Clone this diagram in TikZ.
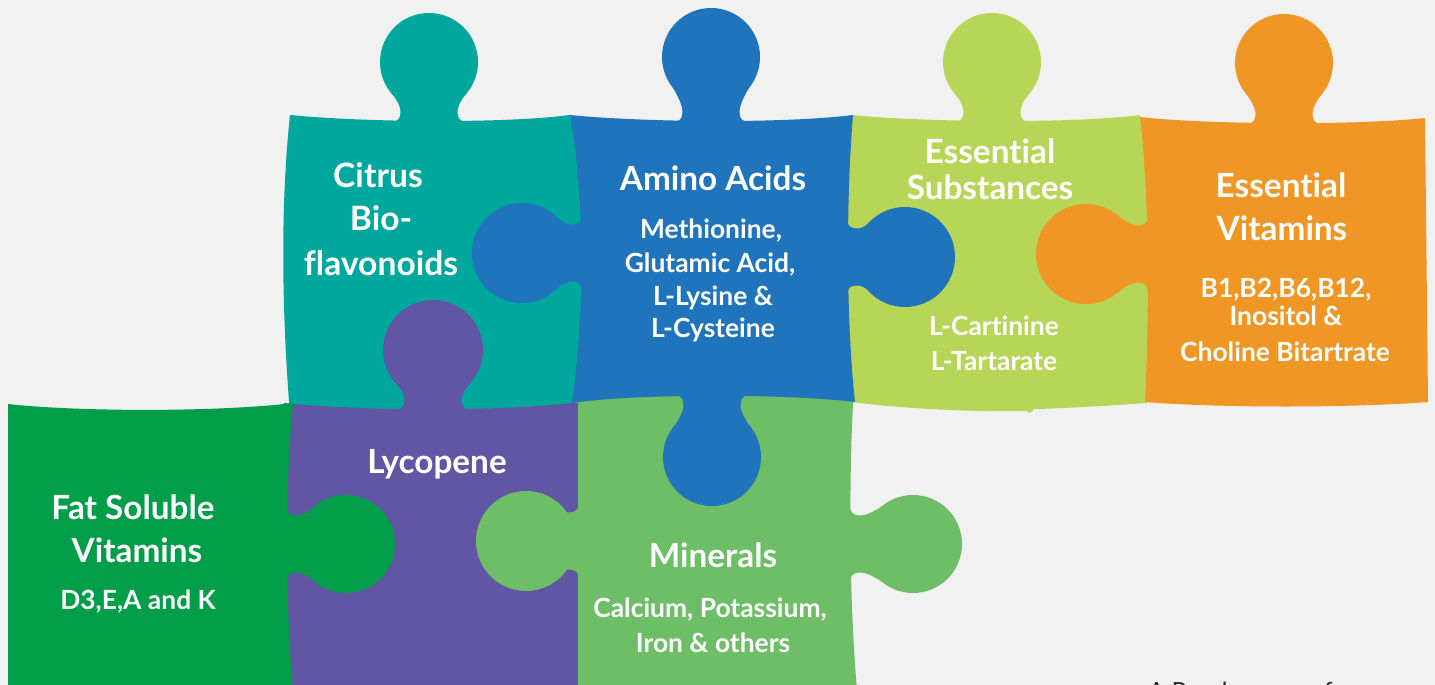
\documentclass[tikz,border=0pt]{standalone}
\usepackage{fontspec}
\setmainfont{Lato}[Ligatures=NoCommon]
\definecolor{bgc}{HTML}{F1F1F1}
\definecolor{cteal}{HTML}{00A79D}
\definecolor{cblue}{HTML}{1F74BC}
\definecolor{clime}{HTML}{B7D557}
\definecolor{corange}{HTML}{EF9624}
\definecolor{cdgreen}{HTML}{009E49}
\definecolor{cpurple}{HTML}{6156A3}
\definecolor{clgreen}{HTML}{6DBE67}
\definecolor{cdark}{HTML}{2A2A2A}
\tikzset{
  lbl/.style={text=white, inner sep=0pt, anchor=base},
  ttl/.style={lbl, font=\fontsize{33.3}{38}\selectfont\bfseries},
  sub/.style={lbl, font=\fontsize{26.4}{30}\selectfont\bfseries},
}
% #1 base point, #2 rotation, #3 distance of centre, #4 radius, #5 colour
\newcommand\knob[5]{%
  \begin{scope}[shift={(#1)}, rotate=#2]
    \fill[#5] (0,-#3) circle[radius=#4];
    \fill[#5] (-36,6) -- (-36,1) .. controls (-31,0) and (-28.5,-3) .. (-28.5,-9)
      .. controls (-28.5,-18) and ({-0.85*#4+5},{-#3+0.5*#4+8.6}) .. ({-0.85*#4},{-#3+0.5*#4})
      -- ({0.85*#4},{-#3+0.5*#4})
      .. controls ({0.85*#4-5},{-#3+0.5*#4+8.6}) and (28.5,-18) .. (28.5,-9)
      .. controls (28.5,-3) and (31,0) .. (36,1) -- (36,6) -- cycle;
  \end{scope}}
\begin{document}
\begin{tikzpicture}[x=1pt,y=-1pt]
\useasboundingbox (0,0) rectangle (1435,685);
\fill[bgc] (0,0) rectangle (1435,685);
\begin{scope}
\clip (0,0) rectangle (1435,685);
% teal
\fill[cteal] (290,115) .. controls (360,122) and (500,124) .. (570,115)
  .. controls (587,200) and (587,310) .. (574,415) -- (290,415)
  .. controls (281,300) and (281,200) .. (290,115) -- cycle;
\knob{429,121}{0}{59}{49}{cteal}
% lime
\fill[clime] (852,115) .. controls (920,122) and (1070,124) .. (1140,115)
  .. controls (1152,200) and (1152,320) .. (1147,403)
  .. controls (1090,407) and (1045,409) .. (1034,409) -- (1030,413) -- (1026,411)
  .. controls (960,412) and (900,408) .. (851,402)
  .. controls (841,320) and (841,200) .. (852,115) -- cycle;
\knob{992,121}{0}{59}{49}{clime}
% purple
\fill[cpurple] (284,403) .. controls (360,411) and (500,412) .. (581,402) -- (581,690) -- (284,690) -- cycle;
\knob{433,409}{0}{59}{50}{cpurple}
% light green
\fill[clgreen] (578,392) -- (853,392) -- (853,404) .. controls (849,480) and (849,600) .. (857,690) -- (578,690) -- cycle;
\knob{578,541}{90}{52}{50}{clgreen}
\knob{851,544}{-90}{62}{49}{clgreen}
% dark green
\fill[cdgreen] (8,404) .. controls (80,412) and (220,412) .. (293,403)
  .. controls (285,480) and (285,600) .. (293,690) -- (8,690) -- cycle;
\knob{287,544}{-90}{59}{49}{cdgreen}
% orange
\fill[corange] (1140,117) .. controls (1200,124) and (1350,126) .. (1425,118) -- (1428,402)
  .. controls (1350,408) and (1220,408) .. (1145,402)
  .. controls (1149,320) and (1150,200) .. (1140,117) -- cycle;
\knob{1284,123}{0}{60}{49}{corange}
\knob{1147,254}{90}{61}{50}{corange}
% blue
\fill[cblue] (570,115) .. controls (640,122) and (780,124) .. (853,115)
  .. controls (846,200) and (846,320) .. (855,402)
  .. controls (790,394) and (640,393) .. (572,403)
  .. controls (585,310) and (585,200) .. (570,115) -- cycle;
\knob{711,121}{0}{64}{49}{cblue}
\knob{581,253}{90}{59}{50}{cblue}
\knob{848,257}{-90}{57}{50}{cblue}
\knob{712,396}{180}{61}{49}{cblue}
% cut-off caption
\node[anchor=base west, inner sep=0pt, text=cdark, font=\fontsize{25}{30}\selectfont] (cap) at (1148,700) {A Rendezvous of};
\end{scope}
% labels
\node[ttl, font=\fontsize{33.6}{40}\selectfont\bfseries] (c1) at (378,187) {Citrus};
\node[ttl, font=\fontsize{33.6}{40}\selectfont\bfseries] (c2) at (381,230) {Bio-};
\node[ttl, font=\fontsize{33.6}{40}\selectfont\bfseries] (c3) at (381,275) {flavonoids};
\node[ttl] (a1) at (713,190) {Amino Acids};
\node[sub] (a2) at (711,238) {Methionine,};
\node[sub] (a3) at (710,272) {Glutamic Acid,};
\node[sub] (a4) at (713,305) {L-Lysine \&};
\node[sub] (a5) at (713,337) {L-Cysteine};
\node[ttl] (e1) at (990,163) {Essential};
\node[ttl] (e2) at (990,199) {Substances};
\node[sub] (e3) at (994,335) {L-Cartinine};
\node[sub] (e4) at (994,370) {L-Tartarate};
\node[ttl] (v1) at (1281,197) {Essential};
\node[ttl] (v2) at (1282,240) {Vitamins};
\node[sub] (v3) at (1286,297) {B1,B2,B6,B12,};
\node[sub] (v4) at (1286,325) {Inositol \&};
\node[sub] (v5) at (1285,361) {Choline Bitartrate};
\node[ttl] (f1) at (133,519) {Fat Soluble};
\node[ttl] (f2) at (137,562) {Vitamins};
\node[sub] (f3) at (138,609) {D3,E,A and K};
\node[ttl] (l1) at (437,473) {Lycopene};
\node[ttl] (m1) at (713,567) {Minerals};
\node[sub] (m2) at (710,617) {Calcium, Potassium,};
\node[sub] (m3) at (713,652) {Iron \& others};
\end{tikzpicture}
\end{document}
